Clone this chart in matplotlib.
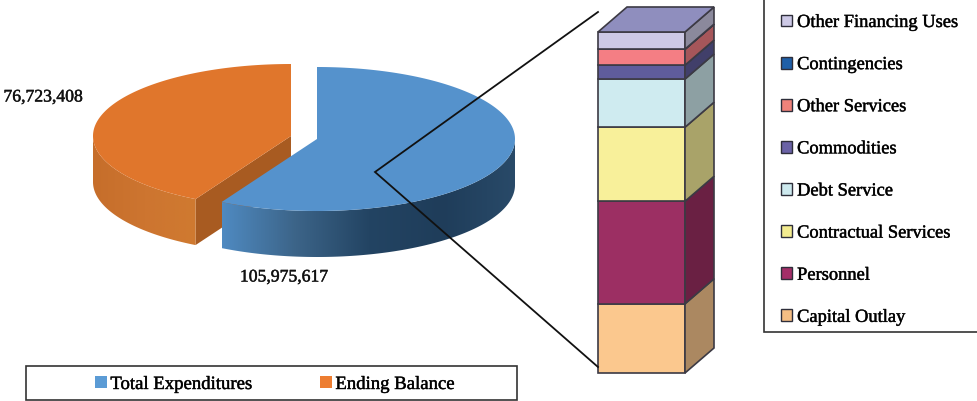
import numpy as np
import matplotlib
matplotlib.use("Agg")
import matplotlib.pyplot as plt
import matplotlib.patheffects as pe
from matplotlib.patches import Polygon, Rectangle, Patch
from matplotlib.colors import LinearSegmentedColormap, to_rgb

plt.rcParams['font.family'] = ['Liberation Serif', 'DejaVu Serif']

# ---- data
pie_labels = ['Total Expenditures', 'Ending Balance']
pie_values = [105975617, 76723408]
bar_labels = ['Capital Outlay', 'Personnel', 'Contractual Services', 'Debt Service',
              'Commodities', 'Other Services', 'Contingencies', 'Other Financing Uses']
bar_values = [21.4, 31.7, 22.9, 14.9, 4.3, 4.9, 0.05, 5.3]
bar_colors = ['#FBC88E', '#9C2F63', '#F8F09A', '#CFEBF0', '#5F5C9C', '#F47E84', '#1F4E8C', '#CDC9E6']
legend_colors = ['#F5BE84', '#A32E68', '#F3EC90', '#CDE9EE', '#6A62A6', '#F0827A', '#1F5FA8', '#CDC9E6']

# ---- layout (pixels)
W, H = 978, 402
fig = plt.figure(figsize=(W / 100, H / 100), dpi=100)
ax = fig.add_axes([0, 0, 1, 1])
ax.set_xlim(0, W)
ax.set_ylim(H, 0)
ax.axis('off')

RX, RY, DEPTH = 198, 72, 46
BLUE_C = (317, 140)
ORANGE_C = (291, 137)
split = 360 * pie_values[0] / sum(pie_values)
stroke = [pe.withStroke(linewidth=0.35, foreground='#222222')]


def rim(c, a0, a1, dy=0, n=160):
    t = np.radians(np.linspace(a0, a1, n))
    return np.column_stack([c[0] + RX * np.sin(t), c[1] - RY * np.cos(t) + dy])


def grad_side(c, a0, a1, colors, z):
    top = rim(c, a0, a1)
    bot = rim(c, a0, a1, DEPTH)
    poly = Polygon(np.vstack([top, bot[::-1]]), closed=True, fc='none', ec='none', zorder=z)
    ax.add_patch(poly)
    x0, x1 = min(top[:, 0]), max(top[:, 0])
    y0, y1 = min(top[:, 1]), max(bot[:, 1])
    cmap = LinearSegmentedColormap.from_list('g', colors)
    im = ax.imshow(np.linspace(0, 1, 256)[None, :], cmap=cmap, extent=(x0, x1, y1, y0),
                   aspect='auto', zorder=z, interpolation='bilinear')
    im.set_clip_path(poly)


# orange slice
ox = rim(ORANGE_C, split, split, 0, 1)[0]
ax.add_patch(Polygon([ORANGE_C, (ORANGE_C[0], ORANGE_C[1] + DEPTH), (ox[0], ox[1] + DEPTH), ox],
                     closed=True, fc='#A85B21', ec='none', zorder=2))
grad_side(ORANGE_C, split, 270, ['#C66E2B', '#CD7530', '#D07A30'], 2)
ax.add_patch(Polygon(np.vstack([[ORANGE_C], rim(ORANGE_C, split, 360)]), closed=True,
                     fc='#E0762C', ec='none', zorder=3))

# blue slice
grad_side(BLUE_C, 90, split, [(0.16, 0.29, 0.41), '#1F3D5A', '#234463', '#3C6488', '#4F8AC1'][::-1], 4)
ax.add_patch(Polygon(np.vstack([[BLUE_C], rim(BLUE_C, 0, split)]), closed=True,
                     fc='#5592CC', ec='none', zorder=5))

ax.text(43, 98, f'{pie_values[1]:,}', ha='center', va='center', fontsize=12.7,
        color='#111111', path_effects=stroke)
ax.text(284, 278, f'{pie_values[0]:,}', ha='center', va='center', fontsize=12.7,
        color='#111111', path_effects=stroke)

# stacked bar
BX0, BX1, BY_BOTTOM, BY_TOP = 598, 685, 374, 33
DX, DY = 29, -25
scale = (BY_BOTTOM - BY_TOP) / sum(bar_values)
edge = '#3C3A44'
y = BY_BOTTOM
for val, col in zip(bar_values, bar_colors):
    h = val * scale
    ax.add_patch(Rectangle((BX0, y - h), BX1 - BX0, h, fc=col, ec=edge, lw=1.2, zorder=6))
    side = tuple(0.68 * np.array(to_rgb(col)))
    ax.add_patch(Polygon([(BX1, y), (BX1 + DX, y + DY), (BX1 + DX, y - h + DY), (BX1, y - h)],
                         closed=True, fc=side, ec=edge, lw=1.2, zorder=6))
    y -= h
ax.add_patch(Polygon([(BX0, y), (BX1, y), (BX1 + DX, y + DY), (BX0 + DX, y + DY)],
                     closed=True, fc='#8F8EBE', ec=edge, lw=1.2, zorder=6))

# connector
ax.plot([598, 375, 598], [13, 173, 368], color='#111111', lw=1.3, zorder=7, solid_joinstyle='miter')

# boxes
ax.add_patch(Rectangle((764, -5), 230, 338, fc='white', ec='#333333', lw=1.2, zorder=1))
ax.add_patch(Rectangle((26, 367), 491, 34, fc='white', ec='#333333', lw=1.2, zorder=1))

# legends
h_right = [Patch(fc=c, ec='#2E2E3A', lw=1.0) for c in legend_colors[::-1]]
leg = ax.legend(h_right, bar_labels[::-1], loc='upper left', bbox_to_anchor=(781, 15),
                bbox_transform=ax.transData, frameon=False, fontsize=13.3, borderpad=0,
                borderaxespad=0, labelspacing=1.36, handlelength=0.62, handleheight=0.62,
                handletextpad=0.25)
leg.set_zorder(8)
for t in leg.get_texts():
    t.set_path_effects(stroke)
ax.add_artist(leg)
h_bottom = [Patch(fc=c, ec='none') for c in ['#5B9BD5', '#ED7D31']]
leg2 = ax.legend(h_bottom, pie_labels, loc='upper left', bbox_to_anchor=(95, 377),
                 bbox_transform=ax.transData, frameon=False, fontsize=13.5, borderpad=0,
                 borderaxespad=0, ncols=2, handlelength=0.62, handleheight=0.62,
                 handletextpad=0.2, columnspacing=3.6)
leg2.set_zorder(8)
for t in leg2.get_texts():
    t.set_path_effects(stroke)

ax.set_xlim(0, W)
ax.set_ylim(H, 0)
fig.savefig('out.png', dpi=100, facecolor='white')
